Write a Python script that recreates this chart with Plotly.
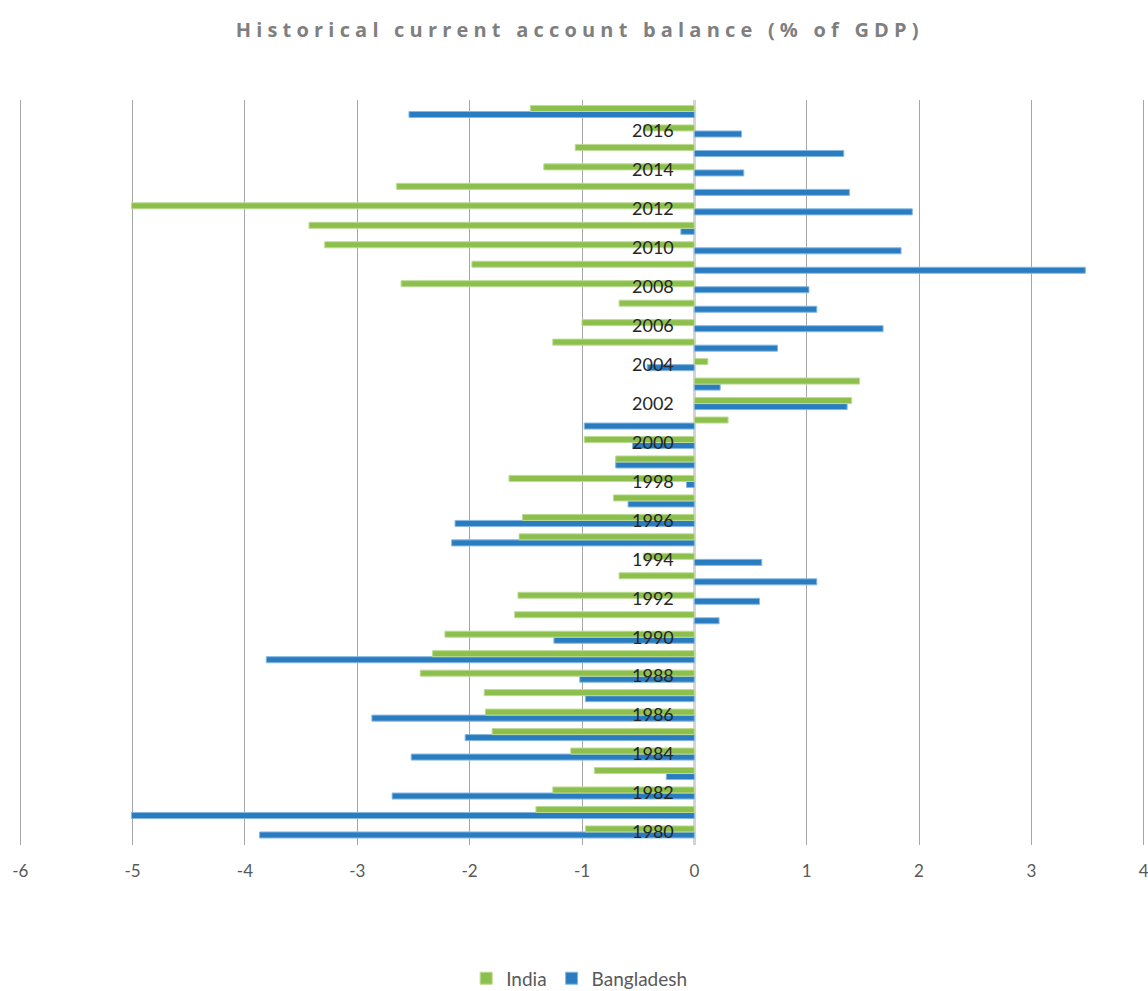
import plotly.graph_objects as go

years = list(range(1980, 2018))

india = [-0.97, -1.41, -1.26, -0.89, -1.10, -1.80, -1.86, -1.87, -2.44, -2.33,
         -2.22, -1.60, -1.57, -0.67, -0.45, -1.56, -1.53, -0.72, -1.65, -0.70,
         -0.98, 0.30, 1.40, 1.47, 0.12, -1.26, -1.00, -0.67, -2.61, -1.98,
         -3.29, -3.43, -5.01, -2.65, -1.34, -1.06, -0.45, -1.46]

bangladesh = [-3.87, -5.01, -2.69, -0.25, -2.52, -2.04, -2.87, -0.97, -1.02, -3.81,
              -1.25, 0.22, 0.58, 1.09, 0.60, -2.16, -2.13, -0.59, -0.07, -0.70,
              -0.55, -0.98, 1.36, 0.23, -0.42, 0.74, 1.68, 1.09, 1.02, 3.48,
              1.84, -0.12, 1.94, 1.38, 0.44, 1.33, 0.42, -2.54]

x_ticks = [-6, -5, -4, -3, -2, -1, 0, 1, 2, 3, 4]
x_tick_labels = ["-6", "-5", "-4", "-3", "-2", "-1", "0", "1", "2", "3", "4"]

fig = go.Figure()
fig.add_trace(go.Bar(
    y=years, x=bangladesh, orientation="h", name="Bangladesh",
    marker=dict(color="#2a7cc0", line=dict(color="#86b8e2", width=1)),
    legendrank=2,
))
fig.add_trace(go.Bar(
    y=years, x=india, orientation="h", name="India",
    marker=dict(color="#8dbf4d", line=dict(color="#bcdb95", width=1)),
    legendrank=1,
))

title_text = ('<span style="letter-spacing:5.2px">'
              'Historical current account balance (% of GDP)</span>')

fig.update_layout(
    width=1148, height=991,
    paper_bgcolor="white", plot_bgcolor="white",
    barmode="group", bargap=0.38, bargroupgap=0.0,
    margin=dict(l=18, r=2, t=100, b=146, autoexpand=False),
    title=dict(text=title_text, x=0.505, xanchor="center", y=1 - 30 / 991,
               yanchor="middle", yref="container",
               font=dict(family="Open Sans", size=20, color="#7f7f7f", weight="bold")),
    xaxis=dict(range=[-6.02, 4.02], tickvals=x_ticks, ticktext=x_tick_labels,
               showgrid=True, gridcolor="#a6a6a6", gridwidth=1,
               zeroline=True, zerolinecolor="#d4d4d4", zerolinewidth=3,
               showline=False, ticks="", automargin=False,
               ticklabelstandoff=14, ticklabeloverflow="allow",
               tickfont=dict(family="Lato", size=17, color="#595959")),
    yaxis=dict(range=[1979.33, 2017.59], tickmode="linear", tick0=1980, dtick=2,
               showgrid=False, zeroline=False, showline=False, ticks="",
               anchor="free", position=0.6, automargin=False,
               ticklabelstandoff=21,
               tickfont=dict(family="Lato", size=18, color="#262626")),
    legend=dict(orientation="h", x=0.4975, xanchor="center", y=-0.179,
                yanchor="middle", font=dict(family="Lato", size=19, color="#595959"),
                traceorder="normal"),
    showlegend=True,
)

fig.write_html("out.html", config={"displayModeBar": False},
               post_script="document.body.style.margin='0';")
